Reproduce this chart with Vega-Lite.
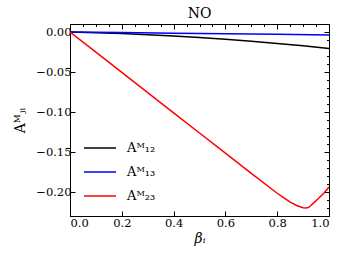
{
  "$schema": "https://vega.github.io/schema/vega-lite/v6.json",
  "autosize": {"type": "none"},
  "padding": {"left": 70, "top": 24, "right": 17, "bottom": 42},
  "width": 259,
  "height": 192,
  "background": "white",
  "title": {"text": "NO", "font": "DejaVu Serif", "fontSize": 14, "fontWeight": "normal", "color": "#000", "offset": 3},
  "config": {
    "view": {"stroke": "#000", "strokeWidth": 1},
    "axis": {"labelFont": "DejaVu Serif", "titleFont": "DejaVu Serif", "labelColor": "#000", "titleColor": "#000", "domainColor": "#000", "tickColor": "#000", "grid": false}
  },
  "data": {"values": [
    {"b": 0.0, "v": 0.0, "s": "A12"},
    {"b": 0.1, "v": -0.00086, "s": "A12"},
    {"b": 0.2, "v": -0.00198, "s": "A12"},
    {"b": 0.3, "v": -0.00337, "s": "A12"},
    {"b": 0.4, "v": -0.00502, "s": "A12"},
    {"b": 0.5, "v": -0.00694, "s": "A12"},
    {"b": 0.6, "v": -0.00912, "s": "A12"},
    {"b": 0.7, "v": -0.01157, "s": "A12"},
    {"b": 0.8, "v": -0.01428, "s": "A12"},
    {"b": 0.9, "v": -0.01726, "s": "A12"},
    {"b": 1.0, "v": -0.0205, "s": "A12"},
    {"b": 0.0, "v": 0.0, "s": "A13"},
    {"b": 0.2, "v": -0.0007, "s": "A13"},
    {"b": 0.4, "v": -0.0014, "s": "A13"},
    {"b": 0.6, "v": -0.0022, "s": "A13"},
    {"b": 0.8, "v": -0.0029, "s": "A13"},
    {"b": 1.0, "v": -0.0037, "s": "A13"},
    {"b": 0.0, "v": 0.0, "s": "A23"},
    {"b": 0.1, "v": -0.0252, "s": "A23"},
    {"b": 0.2, "v": -0.0504, "s": "A23"},
    {"b": 0.3, "v": -0.0756, "s": "A23"},
    {"b": 0.4, "v": -0.1008, "s": "A23"},
    {"b": 0.5, "v": -0.126, "s": "A23"},
    {"b": 0.6, "v": -0.1512, "s": "A23"},
    {"b": 0.7, "v": -0.1764, "s": "A23"},
    {"b": 0.8, "v": -0.2012, "s": "A23"},
    {"b": 0.825, "v": -0.2068, "s": "A23"},
    {"b": 0.85, "v": -0.2122, "s": "A23"},
    {"b": 0.875, "v": -0.2165, "s": "A23"},
    {"b": 0.9, "v": -0.2192, "s": "A23"},
    {"b": 0.91, "v": -0.2196, "s": "A23"},
    {"b": 0.92, "v": -0.219, "s": "A23"},
    {"b": 0.93, "v": -0.2165, "s": "A23"},
    {"b": 0.94, "v": -0.2135, "s": "A23"},
    {"b": 0.96, "v": -0.2075, "s": "A23"},
    {"b": 0.98, "v": -0.2012, "s": "A23"},
    {"b": 1.0, "v": -0.1935, "s": "A23"}
  ]},
  "resolve": {"axis": {"x": "independent", "y": "independent"}},
  "layer": [
    {
      "mark": {"type": "line", "strokeWidth": 1.5, "clip": true},
      "encoding": {
        "x": {"field": "b", "type": "quantitative", "scale": {"domain": [0, 1], "nice": false},
          "axis": {"values": [0, 0.2, 0.4, 0.6, 0.8, 1.0], "format": ".1f", "tickSize": -5, "labelPadding": 6, "labelFontSize": 11.5, "title": "βᵢ", "titleFontSize": 14, "titleFontWeight": "normal", "titleFontStyle": "italic", "titlePadding": 3}},
        "y": {"field": "v", "type": "quantitative", "scale": {"domain": [-0.2296, 0.01], "nice": false, "zero": false},
          "axis": {"values": [0, -0.05, -0.1, -0.15, -0.2], "format": ".2f", "tickSize": -5, "labelPadding": 4, "labelFontSize": 11.5, "title": "Aᴹⱼᵢ", "titleFontSize": 14, "titleFontWeight": "normal", "titlePadding": 8}},
        "color": {"field": "s", "type": "nominal",
          "scale": {"domain": ["A12", "A13", "A23"], "range": ["#000000", "#0000ff", "#ff0000"]},
          "legend": {"orient": "none", "legendX": 21, "legendY": 115, "title": null, "padding": 0, "symbolType": "M-2,0H2", "symbolSize": 256, "symbolStrokeWidth": 1.5, "labelFont": "DejaVu Serif", "labelFontSize": 13, "labelColor": "#000", "rowPadding": 8, "labelOffset": 18,
            "labelExpr": "datum.value == 'A12' ? 'Aᴹ₁₂' : datum.value == 'A13' ? 'Aᴹ₁₃' : 'Aᴹ₂₃'"}}
      }
    },
    {
      "mark": {"type": "line", "strokeOpacity": 0},
      "encoding": {
        "x": {"field": "b", "type": "quantitative", "axis": {"values": [0.05, 0.1, 0.15, 0.25, 0.3, 0.35, 0.45, 0.5, 0.55, 0.65, 0.7, 0.75, 0.85, 0.9, 0.95], "labels": false, "tickSize": -2.5, "domain": false, "title": null}},
        "y": {"field": "v", "type": "quantitative", "axis": {"values": [0.01, -0.01, -0.02, -0.03, -0.04, -0.06, -0.07, -0.08, -0.09, -0.11, -0.12, -0.13, -0.14, -0.16, -0.17, -0.18, -0.19, -0.21, -0.22], "labels": false, "tickSize": -2.5, "domain": false, "title": null}},
        "detail": {"field": "s"}
      }
    },
    {
      "mark": {"type": "line", "strokeOpacity": 0},
      "encoding": {
        "x": {"field": "b", "type": "quantitative", "axis": {"orient": "top", "values": [0, 0.2, 0.4, 0.6, 0.8, 1.0], "labels": false, "tickSize": -5, "domain": false, "title": null}},
        "y": {"field": "v", "type": "quantitative", "axis": {"orient": "right", "values": [0, -0.05, -0.1, -0.15, -0.2], "labels": false, "tickSize": -5, "domain": false, "title": null}},
        "detail": {"field": "s"}
      }
    },
    {
      "mark": {"type": "line", "strokeOpacity": 0},
      "encoding": {
        "x": {"field": "b", "type": "quantitative", "axis": {"orient": "top", "values": [0.05, 0.1, 0.15, 0.25, 0.3, 0.35, 0.45, 0.5, 0.55, 0.65, 0.7, 0.75, 0.85, 0.9, 0.95], "labels": false, "tickSize": -2.5, "domain": false, "title": null}},
        "y": {"field": "v", "type": "quantitative", "axis": {"orient": "right", "values": [0.01, -0.01, -0.02, -0.03, -0.04, -0.06, -0.07, -0.08, -0.09, -0.11, -0.12, -0.13, -0.14, -0.16, -0.17, -0.18, -0.19, -0.21, -0.22], "labels": false, "tickSize": -2.5, "domain": false, "title": null}},
        "detail": {"field": "s"}
      }
    }
  ]
}
